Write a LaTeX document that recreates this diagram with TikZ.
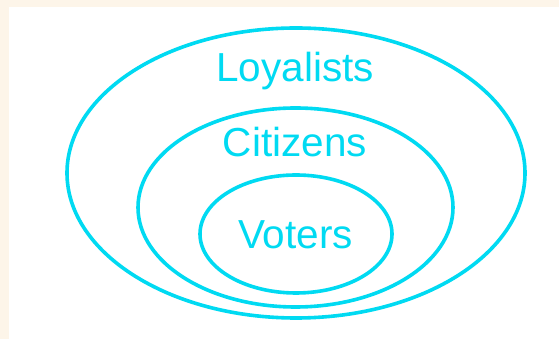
\documentclass[tikz,border=0pt]{standalone}
\usepackage{fontspec}
\setmainfont{Liberation Sans}
\definecolor{ring}{HTML}{00DAF2}
\definecolor{paper}{HTML}{FDF5E9}
\begin{document}
\begin{tikzpicture}[x=1pt,y=1pt,
  setring/.style={draw=ring, line width=3.6pt},
  setlabel/.style={text=ring, font=\fontsize{40.5}{40.5}\selectfont, anchor=base, inner sep=0pt}]
  % page with a cream margin on the top and left
  \fill[paper] (0,0) rectangle (559,339);
  \fill[white] (9,0) rectangle (559,332);
  \useasboundingbox (0,0) rectangle (559,339);
  % nested sets
  \draw[setring] (296,166) ellipse [x radius=229, y radius=145];
  \draw[setring] (295.5,131.5) ellipse [x radius=157.5, y radius=99.5];
  \draw[setring] (296,105) ellipse [x radius=96, y radius=59];
  % labels
  \node[setlabel] (loyal) at (295,257) {Loyalists};
  \node[setlabel] (citiz) at (295,182) {Citizens};
  \node[setlabel] (voter) at (295.5,90) {Voters};
\end{tikzpicture}
\end{document}
